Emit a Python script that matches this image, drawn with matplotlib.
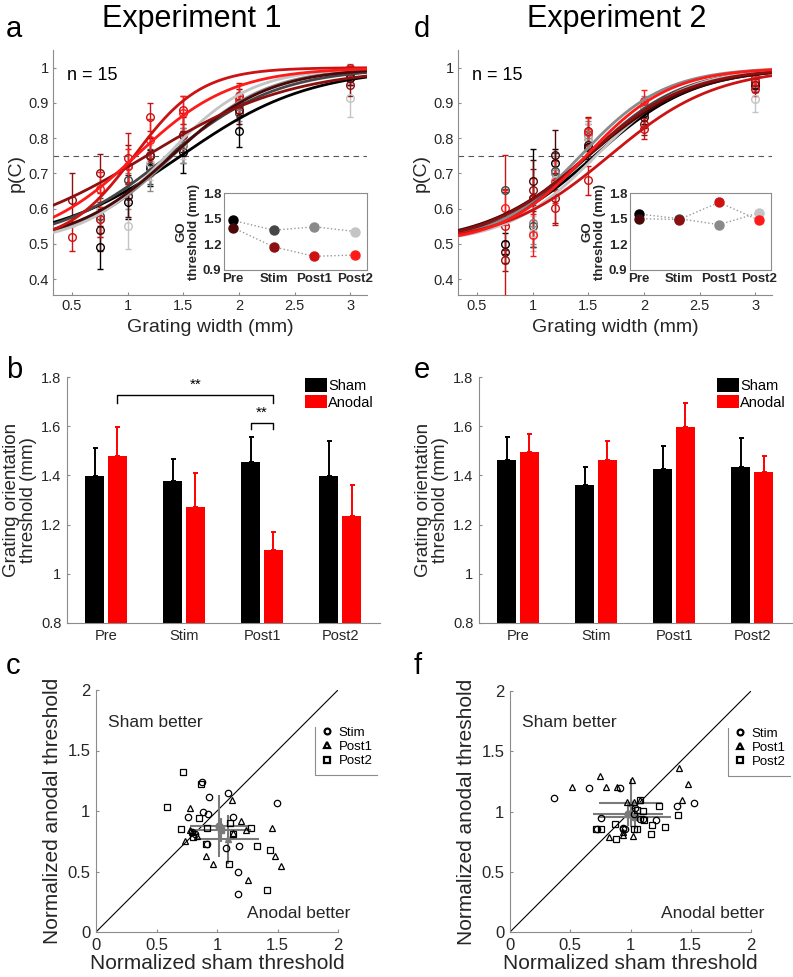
import numpy as np
import matplotlib
matplotlib.use('Agg')
import matplotlib.pyplot as plt
from matplotlib.patches import Patch
from matplotlib.lines import Line2D

plt.rcParams['font.family'] = ['Liberation Sans', 'DejaVu Sans']

# ---------------- data ----------------
nan = np.nan
sessions = ['Pre', 'Stim', 'Post1', 'Post2']
sham_colors = ['#000000', '#464646', '#8a8a8a', '#c4c4c4']
anodal_colors = ['#4a0808', '#8c1010', '#cc1212', '#ff1a1a']

# Experiment 1 psychometric data (rows: Pre, Stim, Post1, Post2)
widths1 = [0.5, 0.75, 1.0, 1.2, 1.5, 2.0, 3.0]
pc1_sham = [[nan, 0.49, 0.62, 0.715, 0.76, 0.82, 0.97],
            [nan, 0.58, 0.68, 0.72, 0.78, 0.87, 0.98],
            [nan, 0.57, 0.65, 0.70, 0.78, 0.89, 0.99],
            [nan, 0.60, 0.55, 0.73, 0.79, 0.90, 0.915]]
err1_sham = [[nan, 0.06, 0.05, 0.05, 0.06, 0.045, 0.02],
             [nan, 0.05, 0.05, 0.05, 0.05, 0.04, 0.02],
             [nan, 0.05, 0.05, 0.05, 0.05, 0.04, 0.02],
             [nan, 0.06, 0.065, 0.05, 0.05, 0.04, 0.055]]
pc1_anodal = [[nan, 0.54, 0.635, 0.75, 0.81, 0.88, 0.97],
              [0.625, 0.70, 0.72, 0.752, 0.81, 0.90, 0.95],
              [0.52, 0.57, 0.745, 0.86, 0.88, 0.92, 1.0],
              [nan, 0.655, 0.72, 0.795, 0.87, 0.91, 0.99]]
err1_anodal = [[nan, 0.06, 0.06, 0.05, 0.05, 0.04, 0.02],
               [0.075, 0.055, 0.06, 0.05, 0.06, 0.04, 0.03],
               [0.04, 0.05, 0.07, 0.04, 0.04, 0.035, 0.005],
               [nan, 0.05, 0.05, 0.06, 0.05, 0.04, 0.01]]
go1_sham = [1.48, 1.365, 1.405, 1.35]
go1_anodal = [1.395, 1.17, 1.06, 1.075]
slope1_sham = [0.58, 0.50, 0.42, 0.38]
slope1_anodal = [0.44, 0.66, 0.30, 0.43]

# Experiment 2 psychometric data
widths2 = [0.75, 1.0, 1.2, 1.5, 2.0, 3.0]
pc2_sham = [[0.50, 0.63, 0.73, 0.776, 0.87, 0.95],
            [0.652, 0.55, 0.707, 0.80, 0.88, 0.96],
            [nan, 0.56, 0.70, 0.81, 0.89, 0.97],
            [nan, 0.53, 0.68, 0.80, 0.88, 0.91]]
err2_sham = [[0.03, 0.14, 0.04, 0.04, 0.03, 0.02],
             [0.005, 0.06, 0.05, 0.04, 0.03, 0.02],
             [nan, 0.06, 0.05, 0.04, 0.03, 0.02],
             [nan, 0.05, 0.05, 0.04, 0.03, 0.035]]
pc2_anodal = [[0.477, 0.677, 0.752, 0.78, 0.86, 0.95],
              [0.453, 0.652, 0.63, 0.82, 0.84, 0.96],
              [0.551, 0.628, 0.603, 0.68, 0.827, 0.94],
              [0.603, 0.525, 0.676, 0.818, 0.906, 0.97]]
err2_anodal = [[0.03, 0.06, 0.07, 0.04, 0.03, 0.02],
               [0.03, 0.06, 0.07, 0.04, 0.03, 0.02],
               [0.2, 0.06, 0.05, 0.04, 0.03, 0.02],
               [0.05, 0.06, 0.06, 0.04, 0.03, 0.02]]
go2_sham = [1.555, 1.50, 1.43, 1.57]
go2_anodal = [1.50, 1.49, 1.69, 1.48]
slope2_sham = [0.45, 0.42, 0.38, 0.40]
slope2_anodal = [0.47, 0.45, 0.48, 0.38]

# Bar charts
thr1_sham = [1.397, 1.378, 1.455, 1.397]
sem1_sham = [0.113, 0.09, 0.102, 0.141]
thr1_anodal = [1.478, 1.273, 1.097, 1.236]
sem1_anodal = [0.119, 0.137, 0.073, 0.124]
thr2_sham = [1.462, 1.361, 1.424, 1.435]
sem2_sham = [0.093, 0.075, 0.094, 0.116]
thr2_anodal = [1.496, 1.462, 1.597, 1.415]
sem2_anodal = [0.074, 0.076, 0.098, 0.062]

# Scatter experiment 1
c_stim_x = [0.879, 0.934, 1.093, 0.882, 0.926, 0.764, 1.129, 1.492, 0.915, 1.074, 1.184, 1.176, 1.176, 0.79, 0.82]
c_stim_y = [1.241, 1.117, 1.150, 0.993, 0.974, 0.952, 0.952, 1.070, 0.726, 0.695, 0.712, 0.494, 0.317, 0.83, 0.81]
c_post1_x = [0.777, 1.126, 1.195, 1.239, 1.456, 0.739, 0.777, 0.832, 0.909, 0.970, 1.478, 1.527, 1.258, 1.135, 0.79]
c_post1_y = [1.026, 1.090, 0.919, 0.847, 0.863, 0.753, 0.847, 0.792, 0.629, 0.566, 0.629, 0.546, 0.433, 0.822, 0.83]
c_post2_x = [0.723, 0.871, 0.585, 0.854, 0.703, 0.920, 1.107, 1.280, 0.805, 0.907, 1.327, 1.437, 1.099, 1.415, 1.129]
c_post2_y = [1.319, 1.225, 1.029, 0.941, 0.855, 0.863, 0.897, 0.863, 0.786, 0.726, 0.712, 0.681, 0.560, 0.350, 0.814]
c_mean_x = [1.02, 1.09, 1.03]
c_mean_y = [0.875, 0.765, 0.84]
c_sd_x = [0.24, 0.26, 0.25]
c_sd_y = [0.255, 0.2, 0.1]

# Scatter experiment 2
f_stim_x = [0.366, 0.659, 0.914, 0.756, 0.720, 0.936, 0.958, 1.075, 1.102, 1.213, 1.385, 1.524, 1.039, 1.025, 0.94]
f_stim_y = [1.112, 1.198, 1.198, 0.943, 0.855, 0.855, 0.855, 0.938, 0.938, 0.932, 1.048, 1.071, 1.032, 0.982, 0.86]
f_post1_x = [0.518, 0.748, 0.795, 0.886, 1.014, 0.970, 1.025, 1.402, 1.474, 1.429, 0.825, 0.936, 0.936, 1.017, 1.080]
f_post1_y = [1.203, 1.292, 1.203, 1.203, 1.264, 1.082, 1.082, 1.361, 1.228, 1.093, 0.788, 0.808, 0.830, 0.797, 1.093]
f_post2_x = [0.715, 0.759, 0.875, 0.881, 1.025, 1.058, 1.053, 1.080, 1.102, 1.108, 1.169, 1.177, 1.235, 1.288, 1.391]
f_post2_y = [0.855, 0.855, 0.899, 0.775, 0.855, 0.855, 1.010, 1.093, 1.004, 0.927, 0.816, 0.885, 1.043, 0.871, 0.968]
f_mean_x = [0.98, 1.00, 1.04]
f_mean_y = [0.98, 1.07, 0.955]
f_sd_x = [0.29, 0.26, 0.30]
f_sd_y = [0.10, 0.20, 0.10]

# ---------------- layout helpers ----------------
W, H = 793, 977
fig = plt.figure(figsize=(W / 100, H / 100), dpi=100)
GRAY = '#8c8c8c'
TXT = '#262626'


def add_ax(l, t, r, b):
    return fig.add_axes([l / W, 1 - b / H, (r - l) / W, (b - t) / H])


def ftext(x, y, s, **kw):
    fig.text(x / W, 1 - y / H, s, **kw)


def style(ax, fs=10.5, pad=2):
    for sp in ['top', 'right']:
        ax.spines[sp].set_visible(False)
    for sp in ['left', 'bottom']:
        ax.spines[sp].set_color(GRAY)
        ax.spines[sp].set_linewidth(0.8)
    ax.tick_params(direction='in', length=2, color=GRAY, labelsize=fs,
                   labelcolor=TXT, pad=pad)


def psych_panel(l, t, r, b, widths, pc_s, err_s, pc_a, err_a, go_s, go_a, sl_s, sl_a):
    ax = add_ax(l, t, r, b)
    style(ax, fs=10.5, pad=3)
    xlim = (0.33, 3.15)
    ax.set_xlim(*xlim)
    ax.set_ylim(0.355, 1.05)
    ax.set_xticks([0.5, 1, 1.5, 2, 2.5, 3])
    ax.set_xticklabels(['0.5', '1', '1.5', '2', '2.5', '3'])
    ax.set_yticks([0.4, 0.5, 0.6, 0.7, 0.8, 0.9, 1.0])
    ax.set_yticklabels(['0.4', '0.5', '0.6', '0.7', '0.8', '0.9', '1'])
    ax.axhline(0.75, color='#555555', ls=(0, (5, 4)), lw=0.8, zorder=1)
    xs = np.linspace(xlim[0], xlim[1], 300)
    groups = [(pc_s, err_s, go_s, sl_s, sham_colors), (pc_a, err_a, go_a, sl_a, anodal_colors)]
    for pcs, errs, gos, sls, cols in groups:
        for i in range(4):
            c = cols[i]
            ax.errorbar(widths, pcs[i], yerr=errs[i], fmt='o', mfc='none', mec=c,
                        ecolor=c, ms=5.5, mew=1.0, capsize=2.2, elinewidth=1.0,
                        capthick=1.0, zorder=3, clip_on=True)
    for pcs, errs, gos, sls, cols in groups:
        for i in range(4):
            p = 0.5 + 0.5 / (1 + np.exp(-(xs - gos[i]) / sls[i]))
            ax.plot(xs, p, color=cols[i], lw=2.0, zorder=4)
    ax.text(0.46, 0.977, 'n = 15', fontsize=13, color='k', va='center', ha='left')
    ax.set_xlabel('Grating width (mm)', fontsize=14, color=TXT, labelpad=4)
    ax.set_ylabel('p(C)', fontsize=14, color=TXT, labelpad=3)
    return ax


def inset(l, t, r, b, go_s, go_a):
    ax = add_ax(l, t, r, b)
    ax.set_zorder(10)
    ax.set_facecolor('white')
    for sp in ax.spines.values():
        sp.set_color(GRAY)
        sp.set_linewidth(0.8)
    x = np.arange(1, 5)
    ax.plot(x, go_s, ls=':', color='#9a9a9a', lw=1.0, zorder=1)
    ax.plot(x, go_a, ls=':', color='#9a9a9a', lw=1.0, zorder=1)
    for i in range(4):
        ax.plot(x[i], go_s[i], 'o', color=sham_colors[i], ms=6.5, zorder=2)
        ax.plot(x[i], go_a[i], 'o', color=anodal_colors[i], ms=6.5, zorder=2)
    ax.set_xlim(0.78, 4.29)
    ax.set_ylim(0.9, 1.8)
    ax.set_yticks([0.9, 1.2, 1.5, 1.8])
    ax.set_xticks(x)
    ax.set_xticklabels(sessions, fontweight='bold')
    for lab in ax.get_yticklabels():
        lab.set_fontweight('bold')
    ax.tick_params(length=0, labelsize=9.5, labelcolor=TXT, pad=2)
    ax.set_ylabel('GO\nthreshold (mm)', fontsize=9.5, fontweight='bold', color=TXT,
                  labelpad=2, linespacing=1.0)
    return ax


def bar_panel(l, t, r, b, thr_s, sem_s, thr_a, sem_a):
    ax = add_ax(l, t, r, b)
    style(ax, fs=10.5, pad=4)
    x = np.arange(1, 5)
    off, bw = 0.145, 0.245
    ax.bar(x - off, thr_s, width=bw, color='black', zorder=2)
    ax.bar(x + off, thr_a, width=bw, color='#ff0000', zorder=2)
    ax.errorbar(x - off, thr_s, yerr=[np.zeros(4), sem_s], fmt='none', ecolor='black',
                elinewidth=1.4, capsize=1.8, capthick=1.4, zorder=3)
    ax.errorbar(x + off, thr_a, yerr=[np.zeros(4), sem_a], fmt='none', ecolor='#ff0000',
                elinewidth=1.4, capsize=1.8, capthick=1.4, zorder=3)
    ax.set_xlim(0.5, 4.51)
    ax.set_ylim(0.8, 1.8)
    ax.set_yticks([0.8, 1.0, 1.2, 1.4, 1.6, 1.8])
    ax.set_yticklabels(['0.8', '1', '1.2', '1.4', '1.6', '1.8'])
    ax.set_xticks(x)
    ax.set_xticklabels(sessions)
    ax.tick_params(axis='x', length=0)
    ax.set_ylabel('Grating orientation\nthreshold (mm)', fontsize=13.5, color=TXT,
                  labelpad=3, linespacing=1.0)
    handles = [Patch(facecolor='black', edgecolor='none'), Patch(facecolor='#ff0000', edgecolor='none')]
    ax.legend(handles, ['Sham', 'Anodal'], loc='upper left', bbox_to_anchor=(0.755, 1.0),
              frameon=False, fontsize=10.5, handlelength=1.5, handleheight=1.05,
              labelspacing=0.12, handletextpad=0.1, borderaxespad=0, borderpad=0.1)
    return ax


def scatter_panel(l, t, r, b, sx, sy, p1x, p1y, p2x, p2y, mx, my, sdx, sdy):
    ax = add_ax(l, t, r, b)
    style(ax, fs=12, pad=4)
    ax.set_xlim(0, 2)
    ax.set_ylim(0, 2)
    ticks = [0, 0.5, 1, 1.5, 2]
    labs = ['0', '0.5', '1', '1.5', '2']
    ax.set_xticks(ticks)
    ax.set_xticklabels(labs)
    ax.set_yticks(ticks)
    ax.set_yticklabels(labs)
    ax.plot([0, 2], [0, 2], color='black', lw=0.8, zorder=1)
    mk = ['o', '^', 's']
    series = [(sx, sy), (p1x, p1y), (p2x, p2y)]
    for k, (xx, yy) in enumerate(series):
        ax.plot(xx, yy, mk[k], mfc='none', mec='black', ms=4.6 if k != 2 else 4.2,
                mew=0.9, zorder=3, ls='none')
    for k in range(3):
        ax.errorbar(mx[k], my[k], xerr=sdx[k], yerr=sdy[k], fmt=mk[k], color='#7a7a7a',
                    mfc='#7a7a7a', mec='#7a7a7a', ms=5, elinewidth=1.5, capsize=0, zorder=2)
    ax.set_xlabel('Normalized sham threshold', fontsize=15, color=TXT, labelpad=1)
    ax.set_ylabel('Normalized anodal threshold', fontsize=15, color=TXT, labelpad=4)
    ax.text(0.10, 1.735, 'Sham better', fontsize=12.5, color=TXT, va='center', ha='left')
    ax.text(1.25, 0.15, 'Anodal better', fontsize=12.5, color=TXT, va='center', ha='left')
    handles = [Line2D([], [], marker=m, ls='none', mfc='none', mec='black', mew=1.6, ms=4.2,
                      color='black') for m in mk]
    ax.legend(handles, ['Stim', 'Post1', 'Post2'], loc='upper left',
              bbox_to_anchor=(0.915, 0.86), frameon=False, fontsize=9.5,
              handlelength=1.0, handletextpad=0.4, labelspacing=0.15, borderaxespad=0,
              borderpad=0.2)
    ax.plot([0.905, 0.905, 1.16], [0.847, 0.649, 0.649], transform=ax.transAxes,
            color=GRAY, lw=0.8, clip_on=False)
    return ax


# ---------------- panels ----------------
psych_panel(53, 50, 367, 295, widths1, pc1_sham, err1_sham, pc1_anodal, err1_anodal,
            go1_sham, go1_anodal, slope1_sham, slope1_anodal)
inset(224, 193, 367, 270, go1_sham, go1_anodal)
psych_panel(458, 50, 772, 295, widths2, pc2_sham, err2_sham, pc2_anodal, err2_anodal,
            go2_sham, go2_anodal, slope2_sham, slope2_anodal)
inset(630, 193, 771, 270, go2_sham, go2_anodal)

axb = bar_panel(67, 377, 380, 623, thr1_sham, sem1_sham, thr1_anodal, sem1_anodal)
# significance brackets
xb = np.arange(1, 5)
axb.plot([xb[0] + 0.145, xb[0] + 0.145, xb[2] + 0.145, xb[2] + 0.145],
         [1.695, 1.726, 1.726, 1.695], color='black', lw=1.0)
axb.text((xb[0] + xb[2]) / 2 + 0.145, 1.738, '**', ha='center', va='bottom', fontsize=11)
axb.plot([xb[2] - 0.145, xb[2] - 0.145, xb[2] + 0.145, xb[2] + 0.145],
         [1.59, 1.615, 1.615, 1.59], color='black', lw=1.0)
axb.text(xb[2], 1.625, '**', ha='center', va='bottom', fontsize=11)

bar_panel(479, 377, 792, 623, thr2_sham, sem2_sham, thr2_anodal, sem2_anodal)

scatter_panel(96, 690, 338, 932, c_stim_x, c_stim_y, c_post1_x, c_post1_y,
              c_post2_x, c_post2_y, c_mean_x, c_mean_y, c_sd_x, c_sd_y)
scatter_panel(510, 691, 751, 932, f_stim_x, f_stim_y, f_post1_x, f_post1_y,
              f_post2_x, f_post2_y, f_mean_x, f_mean_y, f_sd_x, f_sd_y)

# titles and panel letters
ftext(192, 27, 'Experiment 1', fontsize=22, ha='center', va='baseline', color='black')
ftext(617, 27, 'Experiment 2', fontsize=22, ha='center', va='baseline', color='black')
for lx, ly, s in [(6, 37, 'a'), (414, 37, 'd'), (6, 378, 'b'), (414, 378, 'e'),
                  (6, 674, 'c'), (414, 674, 'f')]:
    ftext(lx, ly, s, fontsize=21, ha='left', va='baseline', color='black')

fig.savefig('out.png', dpi=100)
